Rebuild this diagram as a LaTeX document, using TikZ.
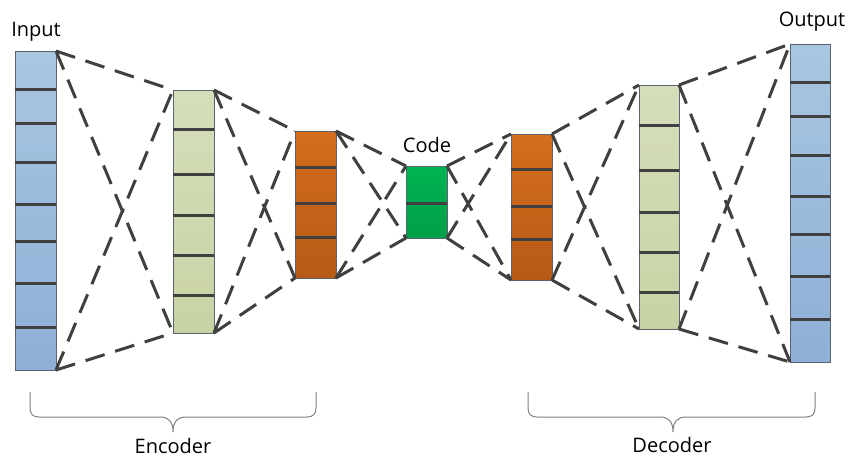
\documentclass[tikz,border=0pt]{standalone}
\usepackage{fontspec}
\setmainfont{Open Sans}
\definecolor{linegray}{HTML}{404040}
\definecolor{edgegray}{HTML}{5A6470}
\definecolor{bluetop}{HTML}{A9C6E1}
\definecolor{bluebot}{HTML}{8EB0D6}
\definecolor{greentop}{HTML}{D5DEBB}
\definecolor{greenbot}{HTML}{C8D3A4}
\definecolor{orangetop}{HTML}{D56E1C}
\definecolor{orangebot}{HTML}{B65A17}
\definecolor{codetop}{HTML}{00B352}
\definecolor{codebot}{HTML}{009E48}
\definecolor{bracegray}{HTML}{808080}
\tikzset{
  layerbox/.style={draw=edgegray, line width=0.8pt, rectangle, inner sep=0pt, outer sep=0pt},
  divider/.style={draw=linegray, line width=3pt},
  conn/.style={draw=linegray, line width=3pt, dash pattern=on 20pt off 11pt},
  bracepath/.style={draw=bracegray, line width=1pt},
  lbl/.style={font=\fontsize{20}{23}\selectfont, inner sep=0pt}
}
\begin{document}
\begin{tikzpicture}[x=1pt,y=-1pt]
\useasboundingbox (0,0) rectangle (859,459);
% layers
\node[layerbox, top color=bluetop, bottom color=bluebot, minimum width=41pt, minimum height=319pt] (in) at (35.5,210.5) {};
\node[layerbox, top color=greentop, bottom color=greenbot, minimum width=41pt, minimum height=243pt] (e1) at (193.5,211.5) {};
\node[layerbox, top color=orangetop, bottom color=orangebot, minimum width=41pt, minimum height=147pt] (e2) at (315.5,204.5) {};
\node[layerbox, top color=codetop, bottom color=codebot, minimum width=41pt, minimum height=72pt] (code) at (426.5,202) {};
\node[layerbox, top color=orangetop, bottom color=orangebot, minimum width=41pt, minimum height=146pt] (d1) at (531.5,207) {};
\node[layerbox, top color=greentop, bottom color=greenbot, minimum width=40pt, minimum height=244pt] (d2) at (659,207) {};
\node[layerbox, top color=bluetop, bottom color=bluebot, minimum width=40pt, minimum height=318pt] (out) at (810,203) {};
% dividers
\foreach \yy in {89,123,162,204,241,283,327} \draw[divider] (in.west |- 0,\yy) -- (in.east |- 0,\yy);
\foreach \yy in {129,174,215,255,295} \draw[divider] (e1.west |- 0,\yy) -- (e1.east |- 0,\yy);
\foreach \yy in {167,203,237} \draw[divider] (e2.west |- 0,\yy) -- (e2.east |- 0,\yy);
\foreach \yy in {203} \draw[divider] (code.west |- 0,\yy) -- (code.east |- 0,\yy);
\foreach \yy in {169,206,239} \draw[divider] (d1.west |- 0,\yy) -- (d1.east |- 0,\yy);
\foreach \yy in {125,170,212,252,292} \draw[divider] (d2.west |- 0,\yy) -- (d2.east |- 0,\yy);
\foreach \yy in {82,116,155,196,234,276,319} \draw[divider] (out.west |- 0,\yy) -- (out.east |- 0,\yy);
% connections
\foreach \a/\b in {in/e1, e1/e2, e2/code, code/d1, d1/d2, d2/out} {
  \draw[conn] (\a.north east) -- (\b.north west);
  \draw[conn] (\a.north east) -- (\b.south west);
  \draw[conn] (\a.south east) -- (\b.north west);
  \draw[conn] (\a.south east) -- (\b.south west);
}
% labels
\node[lbl] (tin) at (36,32) {Input};
\node[lbl] (tout) at (812,22) {Output};
\node[lbl] (tcode) at (427,145) {Code};
\node[lbl] (tenc) at (173,446) {Encoder};
\node[lbl] (tdec) at (672,445) {Decoder};
% braces
\coordinate (eb) at (173,432);
\coordinate (db) at (673,432);
\draw[bracepath] (30,392) -- (30,408) .. controls (30,414) and (33,417) .. (39,417) -- (160,417)
  .. controls (168,417) and (173,421) .. (eb) .. controls (173,421) and (178,417) .. (186,417)
  -- (307,417) .. controls (313,417) and (316,414) .. (316,408) -- (316,392);
\draw[bracepath] (528,392) -- (528,408) .. controls (528,414) and (531,417) .. (537,417) -- (660,417)
  .. controls (668,417) and (673,421) .. (db) .. controls (673,421) and (678,417) .. (686,417)
  -- (806,417) .. controls (812,417) and (815,414) .. (815,408) -- (815,392);
\end{tikzpicture}
\end{document}
